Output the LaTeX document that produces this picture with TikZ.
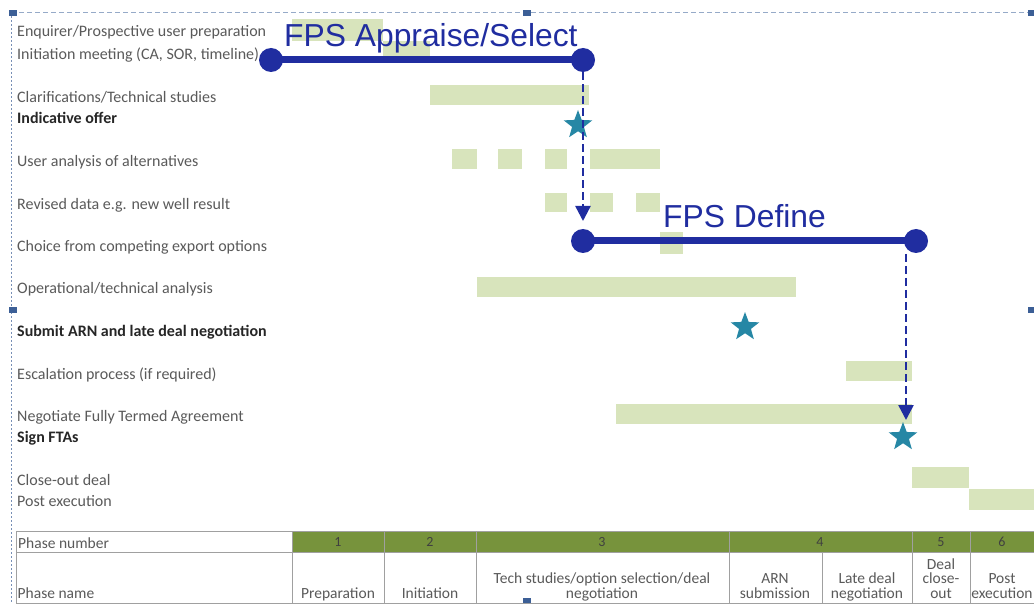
\documentclass[tikz,border=0pt]{standalone}
\usepackage{fontspec}
\setmainfont{Carlito}
\newfontfamily\arialf{Liberation Sans}
\usetikzlibrary{shapes.geometric,arrows.meta}
\definecolor{barg}{RGB}{216,228,188}
\definecolor{hdrg}{RGB}{119,147,60}
\definecolor{fpsblue}{RGB}{32,45,160}
\definecolor{starc}{RGB}{38,135,165}
\definecolor{lblgray}{RGB}{90,90,90}
\definecolor{gridg}{RGB}{160,160,160}
\definecolor{selb}{RGB}{150,170,200}
\definecolor{handle}{RGB}{60,95,150}
\begin{document}
\begin{tikzpicture}[x=1pt,y=-1pt,
  lbl/.style={anchor=west, font=\fontsize{16}{18}\selectfont, text=lblgray, inner sep=0pt, text height=11pt, text depth=4pt},
  lblb/.style={lbl, font=\fontsize{16}{18}\selectfont\bfseries, text=black!85},
  bar/.style={fill=barg},
  ms/.style={star, star points=5, star point ratio=2.4, fill=starc, minimum size=30pt, inner sep=0pt},
  dot/.style={circle, fill=fpsblue, minimum size=24pt, inner sep=0pt},
  phline/.style={draw=fpsblue, line width=7pt},
  fps/.style={font=\arialf\fontsize{31.8}{34}\selectfont, text=fpsblue, anchor=base west, inner sep=0pt},
  dep/.style={draw=fpsblue, line width=2.5pt, dash pattern=on 8pt off 4pt, -{Triangle[width=15pt,length=15pt]}},
  tcell/.style={font=\fontsize{15.5}{14.5}\selectfont, text=lblgray, align=center, anchor=south, inner xsep=1.5pt, inner ysep=0pt},
  tnum/.style={font=\fontsize{14}{16}\selectfont, text=black!75, inner sep=0pt},
  grid/.style={draw=gridg, line width=0.8pt},
]
\useasboundingbox (0,0) rectangle (1034,604);
\fill[white] (0,0) rectangle (1034,604);

% selection frame
\draw[selb, line width=0.8pt, dash pattern=on 5pt off 3pt] (11,12) -- (1040,12);
\draw[handle!70, line width=1pt, dash pattern=on 2pt off 2pt] (11,12) -- (11,604);
\foreach \hx/\hy in {13/13, 527/13, 1032/13, 13/310, 1032/310, 527/601}
  \fill[handle] (\hx-4,\hy-3) rectangle (\hx+4,\hy+3);

% bars
\fill[bar] (292,19) rectangle (383,41);
\fill[bar] (383,41) rectangle (430,62);
\fill[bar] (430,85) rectangle (589,105);
\fill[bar] (452,149) rectangle (477,169);
\fill[bar] (498,149) rectangle (522,169);
\fill[bar] (545,149) rectangle (567,169);
\fill[bar] (590,149) rectangle (660,169);
\fill[bar] (545,193) rectangle (567,212);
\fill[bar] (590,193) rectangle (613,212);
\fill[bar] (636,193) rectangle (660,212);
\fill[bar] (660,232) rectangle (683,254);
\fill[bar] (477,277) rectangle (796,297);
\fill[bar] (846,361) rectangle (912,381);
\fill[bar] (616,404) rectangle (912,424);
\fill[bar] (912,467) rectangle (969,488);
\fill[bar] (969,489) rectangle (1034,510);

% labels
\node[lbl]  (l1)  at (17,33)  {Enquirer/Prospective user preparation};
\node[lbl]  (l2)  at (17,56)  {Initiation meeting (CA, SOR, timeline)};
\node[lbl]  (l3)  at (17,99)  {Clarifications/Technical studies};
\node[lblb] (l4)  at (17,120) {Indicative offer};
\node[lbl]  (l5)  at (17,163) {User analysis of alternatives};
\node[lbl]  (l6)  at (17,206) {Revised data e.g. new well result};
\node[lbl]  (l7)  at (17,248) {Choice from competing export options};
\node[lbl]  (l8)  at (17,290) {Operational/technical analysis};
\node[lblb] (l9)  at (17,333) {Submit ARN and late deal negotiation};
\node[lbl]  (l10) at (17,376) {Escalation process (if required)};
\node[lbl]  (l11) at (17,418) {Negotiate Fully Termed Agreement};
\node[lblb] (l12) at (17,439) {Sign FTAs};
\node[lbl]  (l13) at (17,482) {Close-out deal};
\node[lbl]  (l14) at (17,503) {Post execution};

% milestones
\node[ms] (s1) at (578,125) {};
\node[ms] (s2) at (745,327) {};
\node[ms] (s3) at (903,437) {};

% table
\fill[hdrg] (292,531) rectangle (1040,552);
\draw[grid] (16,531) rectangle (1040,603);
\draw[grid] (16,552) -- (1040,552);
\foreach \cx in {292,384,476,729,912,970} \draw[grid] (\cx,531) -- (\cx,603);
\draw[grid] (822,552) -- (822,603);
\node[tnum, anchor=west, font=\fontsize{15.5}{16}\selectfont, text=lblgray] (pnum) at (18,543) {Phase number};
\node[tnum] (n1) at (338,542) {1};
\node[tnum] (n2) at (430,542) {2};
\node[tnum] (n3) at (602,542) {3};
\node[tnum] (n4) at (820,542) {4};
\node[tnum] (n5) at (941,542) {5};
\node[tnum] (n6) at (1002,542) {6};
\node[tcell, anchor=south west] (pname) at (16,603) {Phase name\strut};
\node[tcell] (c1) at (338,603) {Preparation\strut};
\node[tcell] (c2) at (430,603) {Initiation\strut};
\node[tcell] (c3) at (602,603) {Tech studies/option selection/deal\\negotiation\strut};
\node[tcell] (c4) at (775,603) {ARN\\submission\strut};
\node[tcell] (c5) at (867,603) {Late deal\\negotiation\strut};
\node[tcell] (c6) at (941,603) {Deal\\close-\\out\strut};
\node[tcell] (c7) at (1002,603) {Post\\execution\strut};

% FPS phases
\node[dot] (a1) at (271,60) {};
\node[dot] (a2) at (583,60) {};
\draw[phline] (a1.center) -- (a2.center);
\node[fps] (at) at (284,47) {FPS Appraise/Select};

\node[dot] (d1) at (583,241) {};
\node[dot] (d2) at (916,241) {};
\draw[phline] (d1.center) -- (d2.center);
\node[fps] (dt) at (663,228) {FPS Define};

\draw[dep] (a2.south) -- (583,221) coordinate (a2end);
\coordinate (d2drop) at (906,254);
\coordinate (d2end) at (906,420);
\draw[dep] (d2drop) -- (d2end);
\end{tikzpicture}
\end{document}
